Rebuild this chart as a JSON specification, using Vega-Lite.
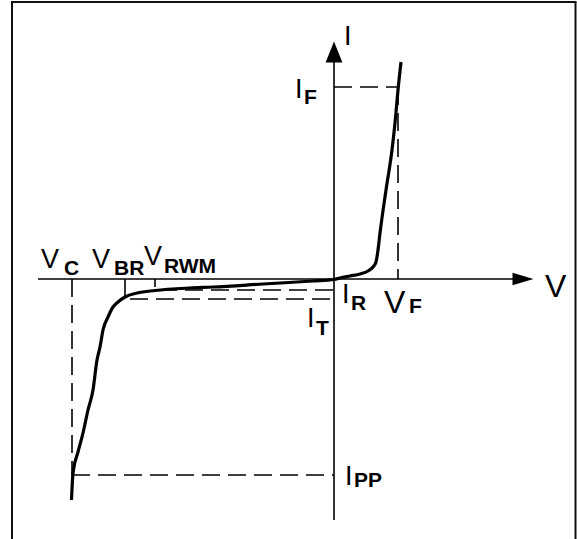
{
  "$schema": "https://vega.github.io/schema/vega-lite/v6.json",
  "width": 577,
  "height": 539,
  "autosize": "none",
  "padding": 0,
  "background": "white",
  "config": {"view": {"stroke": null}},
  "datasets": {
    "frame": [
      {"x": -322, "y": 277, "x2": -322, "y2": -260},
      {"x": -323, "y": 277, "x2": 242.5, "y2": 277},
      {"x": 241.5, "y": 277, "x2": 241.5, "y2": -260}
    ],
    "axes": [
      {"x": -296, "y": 0, "x2": 180, "y2": 0},
      {"x": 0, "y": 218, "x2": 0, "y2": -241},
      {"x": -209, "y": 0, "x2": -209, "y2": -17},
      {"x": -179, "y": 0, "x2": -179, "y2": -8}
    ],
    "dashed": [
      {"x": -262, "y": 0, "x2": -262, "y2": -196},
      {"x": -262, "y": -196, "x2": 0, "y2": -196},
      {"x": 0, "y": 192, "x2": 64, "y2": 192},
      {"x": 64, "y": 192, "x2": 64, "y2": 0},
      {"x": -175, "y": -11, "x2": 0, "y2": -11},
      {"x": -204, "y": -20, "x2": 0, "y2": -20}
    ],
    "curve": [
      {"x": -262.5, "y": -221},
      {"x": -261, "y": -194},
      {"x": -256, "y": -173},
      {"x": -251, "y": -154},
      {"x": -246, "y": -131},
      {"x": -241, "y": -111},
      {"x": -237, "y": -81},
      {"x": -234, "y": -68},
      {"x": -231, "y": -51},
      {"x": -226, "y": -38},
      {"x": -221, "y": -28},
      {"x": -216, "y": -23},
      {"x": -209, "y": -18},
      {"x": -197, "y": -14},
      {"x": -179, "y": -11.5},
      {"x": -144, "y": -9},
      {"x": -121, "y": -8},
      {"x": -71, "y": -5},
      {"x": -21, "y": -2},
      {"x": 0, "y": -0.5},
      {"x": 6, "y": 1},
      {"x": 16, "y": 3},
      {"x": 26, "y": 5},
      {"x": 34, "y": 8},
      {"x": 39, "y": 12},
      {"x": 42, "y": 17},
      {"x": 44, "y": 29},
      {"x": 46, "y": 46},
      {"x": 52, "y": 89},
      {"x": 58, "y": 129},
      {"x": 61, "y": 156},
      {"x": 64, "y": 189},
      {"x": 67, "y": 217}
    ],
    "arrows": [
      {"x": 189, "y": 0, "dir": "right"},
      {"x": 0, "y": 227, "dir": "up"}
    ],
    "mainLabels": [
      {"x": 10, "y": 234, "text": "I"},
      {"x": -39, "y": 181, "text": "I"},
      {"x": 8, "y": -24, "text": "I"},
      {"x": -27, "y": -48, "text": "I"},
      {"x": 11, "y": -206, "text": "I"},
      {"x": -293, "y": 11, "text": "V"},
      {"x": -242, "y": 11, "text": "V"},
      {"x": -190, "y": 14, "text": "V"}
    ],
    "bigLabels": [
      {"x": 211, "y": -18, "text": "V"},
      {"x": 50, "y": -34, "text": "V"}
    ],
    "subLabels": [
      {"x": -30, "y": 175, "text": "F"},
      {"x": 17, "y": -31, "text": "R"},
      {"x": -18, "y": -56, "text": "T"},
      {"x": 20, "y": -208, "text": "PP"},
      {"x": -270, "y": 4, "text": "C"},
      {"x": -220, "y": 4, "text": "BR"},
      {"x": -170, "y": 6, "text": "RWM"},
      {"x": 75, "y": -34, "text": "F"}
    ]
  },
  "encoding": {
    "x": {"field": "x", "type": "quantitative", "scale": {"domain": [-334, 243], "nice": false, "zero": false}, "axis": null},
    "y": {"field": "y", "type": "quantitative", "scale": {"domain": [-260, 279], "nice": false, "zero": false}, "axis": null}
  },
  "layer": [
    {
      "data": {"name": "frame"},
      "mark": {"type": "rule", "color": "#111111", "strokeWidth": 2},
      "encoding": {"x2": {"field": "x2"}, "y2": {"field": "y2"}}
    },
    {
      "data": {"name": "axes"},
      "mark": {"type": "rule", "color": "#000000", "strokeWidth": 1.6},
      "encoding": {"x2": {"field": "x2"}, "y2": {"field": "y2"}}
    },
    {
      "data": {"name": "dashed"},
      "mark": {"type": "rule", "color": "#000000", "strokeWidth": 1.6, "strokeDash": [18, 8]},
      "encoding": {"x2": {"field": "x2"}, "y2": {"field": "y2"}}
    },
    {
      "data": {"name": "curve"},
      "mark": {"type": "line", "color": "#000000", "strokeWidth": 3.2, "interpolate": "monotone"},
      "encoding": {}
    },
    {
      "data": {"name": "arrows"},
      "mark": {"type": "point", "filled": true, "color": "#000000", "opacity": 1, "size": 441},
      "encoding": {
        "shape": {"field": "dir", "type": "nominal", "scale": {"domain": ["right", "up"], "range": ["M-1,-0.6L1,0L-1,0.6Z", "M0,-1L0.8,1L-0.8,1Z"]}, "legend": null}
      }
    },
    {
      "data": {"name": "mainLabels"},
      "mark": {"type": "text", "font": "Liberation Sans", "fontSize": 27, "align": "left", "baseline": "alphabetic", "color": "#000000"},
      "encoding": {"text": {"field": "text"}}
    },
    {
      "data": {"name": "bigLabels"},
      "mark": {"type": "text", "font": "Liberation Sans", "fontSize": 32, "align": "left", "baseline": "alphabetic", "color": "#000000"},
      "encoding": {"text": {"field": "text"}}
    },
    {
      "data": {"name": "subLabels"},
      "mark": {"type": "text", "font": "Liberation Sans", "fontSize": 21, "fontWeight": "bold", "align": "left", "baseline": "alphabetic", "color": "#000000"},
      "encoding": {"text": {"field": "text"}}
    }
  ]
}
